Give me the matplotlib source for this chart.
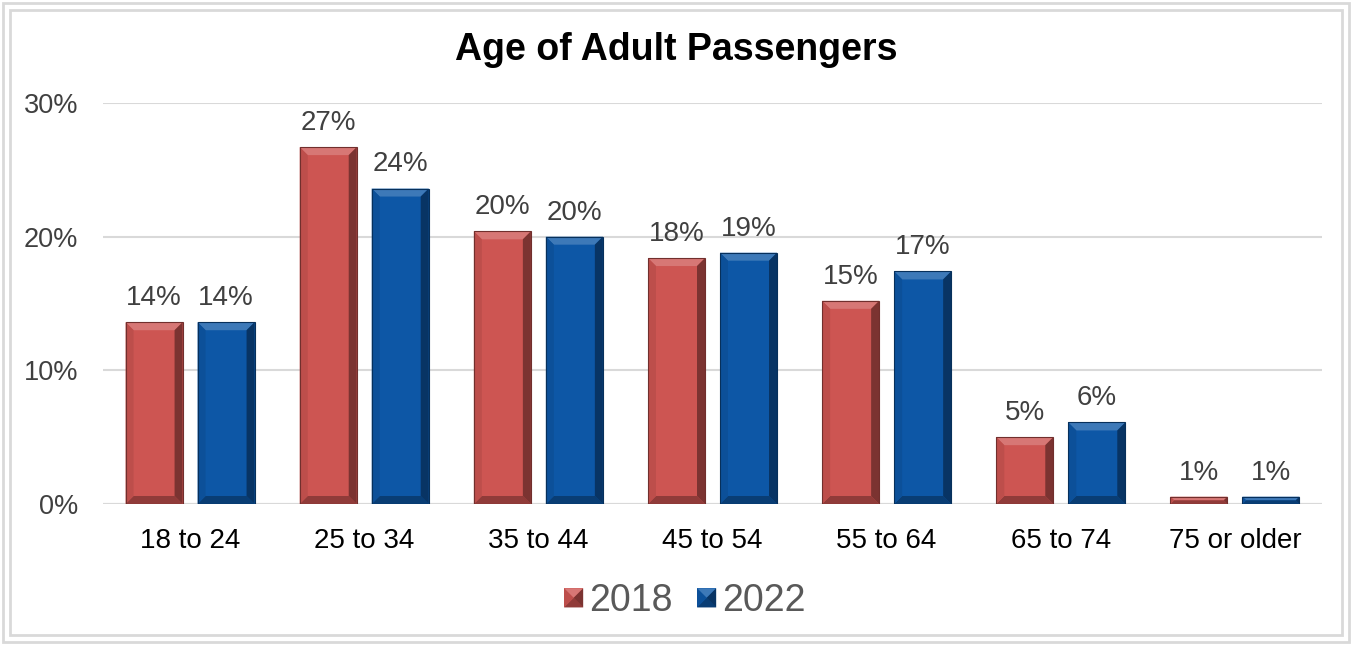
import matplotlib
matplotlib.use("Agg")
import matplotlib.pyplot as plt
from matplotlib.patches import Polygon, Rectangle
from matplotlib.legend_handler import HandlerBase
import numpy as np

plt.rcParams['font.family'] = ['Liberation Sans', 'DejaVu Sans']

categories = ["18 to 24", "25 to 34", "35 to 44", "45 to 54", "55 to 64", "65 to 74", "75 or older"]
years = ["2018", "2022"]
vals_2018 = [13.6, 26.7, 20.4, 18.4, 15.2, 5.0, 0.55]
vals_2022 = [13.6, 23.6, 20.0, 18.8, 17.4, 6.1, 0.55]
yticks = [0, 10, 20, 30]

colors = ["#CD5552", "#0D57A6"]
W, H = 1352, 645
fig = plt.figure(figsize=(W / 100, H / 100), dpi=100)

# axes box in pixels
L, R, T, B = 103, 1322, 103, 504
ax = fig.add_axes([L / W, 1 - B / H, (R - L) / W, (B - T) / H])
ax.set_xlim(-0.5, len(categories) - 0.5)
ax.set_ylim(0, 30)

px_x = len(categories) / (R - L)   # data units per pixel
px_y = 30 / (B - T)


def shade(c, f):
    c = np.array(matplotlib.colors.to_rgb(c))
    if f > 0:
        return tuple(c + (1 - c) * f)
    return tuple(c * (1 + f))


def bevel_polys(x0, y0, x1, y1, bx, by):
    return [
        ([(x0, y1), (x1, y1), (x1 - bx, y1 - by), (x0 + bx, y1 - by)], 0.2),    # top
        ([(x0, y0), (x1, y0), (x1 - bx, y0 + by), (x0 + bx, y0 + by)], -0.3),   # bottom
        ([(x0, y0), (x0 + bx, y0 + by), (x0 + bx, y1 - by), (x0, y1)], -0.08),  # left
        ([(x1, y0), (x1 - bx, y0 + by), (x1 - bx, y1 - by), (x1, y1)], -0.4),   # right
    ]


def draw_bar(ax, xc, w, h, color):
    x0, x1 = xc - w / 2, xc + w / 2
    bpx = min(8, h / px_y / 2)
    bx, by = bpx * px_x, bpx * px_y
    ax.add_patch(Rectangle((x0, 0), w, h, facecolor=color, edgecolor='none', zorder=3))
    for pts, f in bevel_polys(x0, 0, x1, h, bx, by):
        ax.add_patch(Polygon(pts, closed=True, facecolor=shade(color, f), edgecolor='none', zorder=3))
    ax.add_patch(Rectangle((x0, 0), w, h, facecolor='none', edgecolor=shade(color, -0.45),
                           linewidth=0.8, zorder=4))


bw = 57 * px_x
off = 36 * px_x
x = np.arange(len(categories))
for i, (vals, col) in enumerate(zip([vals_2018, vals_2022], colors)):
    xs = x - off if i == 0 else x + off
    for xc, v in zip(xs, vals):
        draw_bar(ax, xc, bw, v, col)
        ax.annotate(f"{round(v + 0.01):.0f}%", (xc, v), xytext=(0, 8), textcoords='offset points',
                    ha='center', va='bottom', fontsize=20, color='#404040')

ax.set_yticks(yticks)
ax.set_yticklabels([f"{t}%" for t in yticks], fontsize=19.5, color='#404040')
ax.set_xticks(x)
ax.set_xticklabels(categories, fontsize=20, color='black')
ax.tick_params(length=0)
ax.tick_params(axis='y', pad=18)
ax.tick_params(axis='x', pad=17)
ax.grid(axis='y', color='#d9d9d9', linewidth=1.5, zorder=0)
for s in ax.spines.values():
    s.set_visible(False)
ax.axhline(0, color='#d9d9d9', linewidth=1.5, zorder=1)

fig.text(0.5, 1 - 50 / H, "Age of Adult Passengers", ha='center', va='center',
         fontsize=27, fontweight='bold', color='black')


class BevelHandler(HandlerBase):
    def create_artists(self, legend, orig_handle, xdescent, ydescent, width, height, fontsize, trans):
        s = min(width, height) * 0.85
        x0 = (width - s) / 2 - xdescent
        y0 = (height - s) / 2 - ydescent
        c = orig_handle.get_facecolor()
        arts = [Rectangle((x0, y0), s, s, facecolor=c, edgecolor='none', transform=trans)]
        b = s / 2
        for pts, f in bevel_polys(x0, y0, x0 + s, y0 + s, b, b):
            arts.append(Polygon(pts, closed=True, facecolor=shade(c, f), edgecolor='none', transform=trans))
        return arts


handles = [Rectangle((0, 0), 1, 1, facecolor=c) for c in colors]
leg = fig.legend(handles, years, loc='center', bbox_to_anchor=(0.506, 1 - 601 / H), ncol=2,
                 frameon=False, fontsize=27, handlelength=0.6, handletextpad=0.12,
                 columnspacing=0.6, handler_map={Rectangle: BevelHandler()})
for t in leg.get_texts():
    t.set_color('#595959')

# double border
fig.patches.append(Rectangle((3 / W, 3 / H), 1 - 6 / W, 1 - 6 / H, transform=fig.transFigure,
                             fill=False, edgecolor='#d9d9d9', linewidth=2))
fig.patches.append(Rectangle((10 / W, 10 / H), 1 - 20 / W, 1 - 20 / H, transform=fig.transFigure,
                             fill=False, edgecolor='#d9d9d9', linewidth=2))

fig.savefig("out.png", dpi=100)
